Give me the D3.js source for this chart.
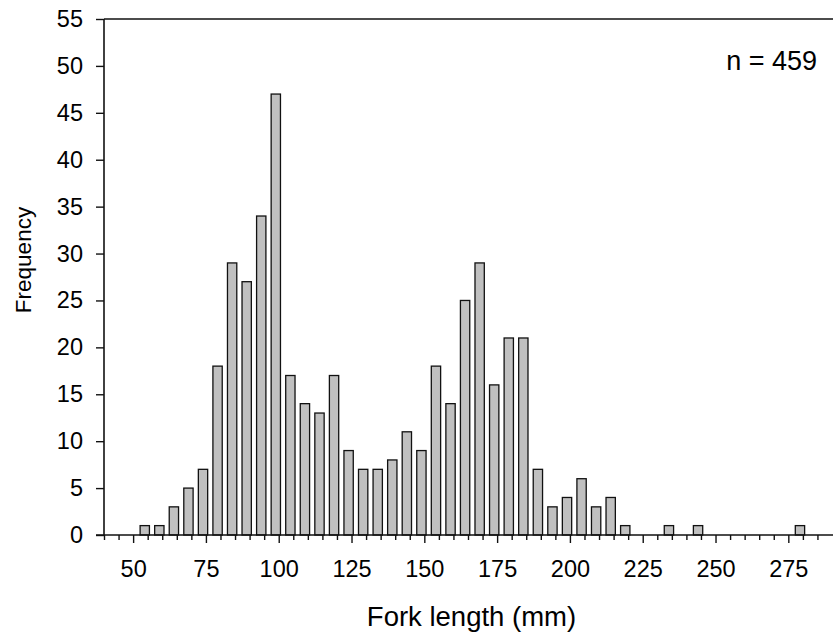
<!DOCTYPE html>
<html>
<head>
<meta charset="utf-8">
<script src="https://cdn.jsdelivr.net/npm/d3@7"></script>
<style>
  html, body { margin: 0; padding: 0; background: #fff; }
  svg text { font-family: "Liberation Sans", Arial, sans-serif; fill: #000; }
</style>
</head>
<body>
<svg id="chart" width="833" height="634"></svg>
<script>
// Data
const binLengths = [55, 60, 65, 70, 75, 80, 85, 90, 95, 100, 105, 110, 115, 120, 125, 130, 135, 140, 145, 150,
                    155, 160, 165, 170, 175, 180, 185, 190, 195, 200, 205, 210, 215, 220, 225, 230, 235, 240, 245, 250,
                    255, 260, 265, 270, 275, 280];
const frequencies = [1, 1, 3, 5, 7, 18, 29, 27, 34, 47, 17, 14, 13, 17, 9, 7, 7, 8, 11, 9,
                     18, 14, 25, 29, 16, 21, 21, 7, 3, 4, 6, 3, 4, 1, 0, 0, 1, 0, 1, 0,
                     0, 0, 0, 0, 0, 1];
const xMajorTicks = [50, 75, 100, 125, 150, 175, 200, 225, 250, 275];
const xMinorTicks = [40, 45, 55, 60, 65, 70, 80, 85, 90, 95, 105, 110, 115, 120, 130, 135, 140, 145, 155, 160,
                     165, 170, 180, 185, 190, 195, 205, 210, 215, 220, 230, 235, 240, 245, 255, 260, 265, 270, 280, 285];
const yTicks = [0, 5, 10, 15, 20, 25, 30, 35, 40, 45, 50, 55];
const xTitle = "Fork length (mm)";
const yTitle = "Frequency";
const annotation = "n = 459";

const data = binLengths.map((b, i) => ({ len: b, freq: frequencies[i] }));

const svg = d3.select("#chart");
const mLeft = 104, mRight = 832, mTop = 19, mBottom = 535;

const x = d3.scaleLinear().domain([40, 290]).range([mLeft, mRight]);
const y = d3.scaleLinear().domain([0, 55]).range([mBottom, mTop]);

// Bars
svg.append("g").selectAll("rect")
  .data(data.filter(d => d.freq > 0))
  .join("rect")
  .attr("x", d => x(d.len - 2.6))
  .attr("width", d => x(d.len + 0.6) - x(d.len - 2.6))
  .attr("y", d => y(d.freq))
  .attr("height", d => y(0) - y(d.freq))
  .attr("fill", "#c0c0c0")
  .attr("stroke", "#111")
  .attr("stroke-width", 1.3);

// Y axis
const yAxis = svg.append("g")
  .attr("transform", `translate(${mLeft},0)`)
  .call(d3.axisLeft(y).tickValues(yTicks).tickSize(8).tickPadding(13).tickFormat(d3.format("d")));
yAxis.select(".domain").attr("stroke", "#111").attr("stroke-width", 1.6).attr("d", `M0,${mBottom}V${mTop}`);
yAxis.selectAll(".tick line").attr("stroke", "#111").attr("stroke-width", 1.4);
yAxis.selectAll(".tick text").attr("font-size", 23.5).attr("font-family", "Liberation Sans, Arial, sans-serif").attr("fill", "#000");

// X axis (major ticks)
const xAxis = svg.append("g")
  .attr("transform", `translate(0,${mBottom})`)
  .call(d3.axisBottom(x).tickValues(xMajorTicks).tickSize(8).tickPadding(17).tickFormat(d3.format("d")));
xAxis.select(".domain").attr("stroke", "#111").attr("stroke-width", 1.6).attr("d", `M${mLeft - 8},0H${833}`);
xAxis.selectAll(".tick line").attr("stroke", "#111").attr("stroke-width", 1.4);
xAxis.selectAll(".tick text").attr("font-size", 23.5).attr("font-family", "Liberation Sans, Arial, sans-serif").attr("fill", "#000");

// X axis (minor ticks)
const xMinor = svg.append("g")
  .attr("transform", `translate(0,${mBottom})`)
  .call(d3.axisBottom(x).tickValues(xMinorTicks).tickSize(5).tickFormat(""));
xMinor.select(".domain").remove();
xMinor.selectAll(".tick line").attr("stroke", "#111").attr("stroke-width", 1.4);

// Top frame line
svg.append("line")
  .attr("x1", mLeft).attr("x2", 833)
  .attr("y1", y(55)).attr("y2", y(55))
  .attr("stroke", "#111").attr("stroke-width", 1.6);

// Axis titles
svg.append("text")
  .attr("x", 471.5)
  .attr("y", 626)
  .attr("text-anchor", "middle")
  .attr("font-size", 27.5)
  .text(xTitle);

svg.append("text")
  .attr("transform", `translate(31,260) rotate(-90)`)
  .attr("text-anchor", "middle")
  .attr("font-size", 22.5)
  .text(yTitle);

// Annotation
svg.append("text")
  .attr("x", 817)
  .attr("y", 70)
  .attr("text-anchor", "end")
  .attr("font-size", 27)
  .text(annotation);
</script>
</body>
</html>
